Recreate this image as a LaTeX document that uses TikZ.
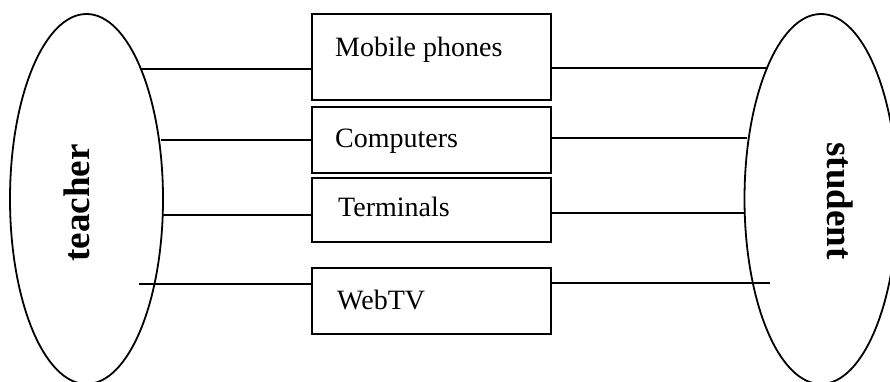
\documentclass[tikz,border=0pt]{standalone}
\usepackage{fontspec}
\setmainfont{Liberation Serif}
\usetikzlibrary{shapes.geometric}
\begin{document}
\begin{tikzpicture}[x=1pt,y=-1pt,
  oval/.style={draw,ellipse,line width=1.8pt,inner sep=0pt,minimum width=153pt,minimum height=370pt},
  box/.style={draw,rectangle,line width=2.2pt,inner sep=0pt},
  boxtext/.style={anchor=base west,inner sep=0pt,font=\fontsize{28}{30}\selectfont},
  who/.style={inner sep=0pt,font=\fontsize{37}{40}\selectfont\bfseries},
  link/.style={line width=1.7pt}]
\useasboundingbox (0,0) rectangle (890,382);
\clip (0,0) rectangle (890,382);
% ellipses
\node[oval] (teacher) at (86.5,199) {};
\node[oval] (student) at (821,199) {};
\node[who,rotate=90] (tlabel) at (77,203) {teacher};
\node[who,rotate=-90] (slabel) at (840,201) {student};
% boxes
\node[box,minimum width=239pt,minimum height=86pt] (mob) at (431.5,57) {};
\node[box,minimum width=239pt,minimum height=66pt] (com) at (431.5,140) {};
\node[box,minimum width=239pt,minimum height=64pt] (ter) at (431.5,210) {};
\node[box,minimum width=239pt,minimum height=66pt] (web) at (431.5,301) {};
\node[boxtext] (mobt) at (335,57) {Mobile phones};
\node[boxtext] (comt) at (335,147) {Computers};
\node[boxtext] (tert) at (338,216) {Terminals};
\node[boxtext] (webt) at (337,309) {WebTV};
% free ends
\coordinate (l1) at (140,69);
\coordinate (l2) at (161,140);
\coordinate (l3) at (163,215);
\coordinate (l4) at (139,284);
\coordinate (r1) at (768,68);
\coordinate (r2) at (747,138);
\coordinate (r3) at (745,213);
\coordinate (r4) at (770,283);
% connectors
\draw[link] (l1) -- (l1 -| mob.west);
\draw[link] (l2) -- (l2 -| com.west);
\draw[link] (l3) -- (l3 -| ter.west);
\draw[link] (l4) -- (l4 -| web.west);
\draw[link] (r1 -| mob.east) -- (r1);
\draw[link] (r2 -| com.east) -- (r2);
\draw[link] (r3 -| ter.east) -- (r3);
\draw[link] (r4 -| web.east) -- (r4);
\end{tikzpicture}
\end{document}
